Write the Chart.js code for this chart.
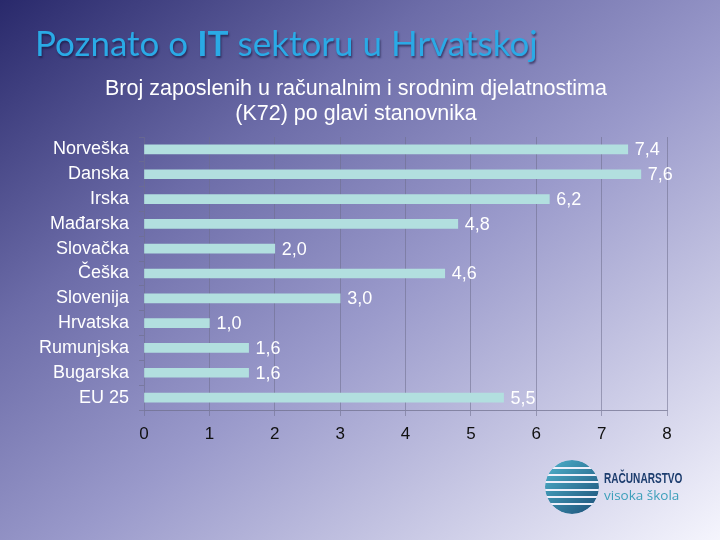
<!DOCTYPE html>
<html>
<head>
<meta charset="utf-8">
<script src="https://cdn.jsdelivr.net/npm/chart.js@4"></script>
<style>
  html, body { margin: 0; padding: 0; }
  body {
    width: 720px; height: 540px; overflow: hidden; position: relative;
    background: linear-gradient(to bottom right, #29296b 0%, #6c6ca8 30%, #9a9acb 55%, #f5f5fd 100%);
    font-family: "Liberation Sans", Arial, sans-serif;
  }
  #pageTitle {
    position: absolute; left: 35px; top: 21px;
    font-family: Lato, "Open Sans", sans-serif; font-size: 35px;
    color: #2aaae6; text-shadow: 1px 2px 2px rgba(20,20,60,0.6);
    white-space: nowrap;
  }
  #chartTitle {
    position: absolute; left: 56px; width: 600px; top: 76px;
    text-align: center; color: #ffffff; font-size: 21.5px; line-height: 25px;
  }
  #wrap { position: absolute; left: 0; top: 0; width: 720px; height: 540px; }
  #logo { position: absolute; left: 543px; top: 458px; }
  #logoText { position: absolute; left: 604px; top: 470px; line-height: 17px; }
  #logoText .a { font-weight: bold; font-size: 14px; color: #1d3d6e; transform: scaleX(0.72); transform-origin: left; white-space: nowrap; }
  #logoText .b { font-family: "Open Sans", sans-serif; font-size: 13.5px; color: #3c9fba; }
</style>
</head>
<body>
<div id="wrap"><canvas id="myChart" width="720" height="540"></canvas></div>
<div id="pageTitle">Poznato o <b>IT</b> sektoru u Hrvatskoj</div>
<div id="chartTitle">Broj zaposlenih u računalnim i srodnim djelatnostima<br>(K72) po glavi stanovnika</div>
<svg id="logo" width="60" height="60" viewBox="0 0 60 60">
  <defs>
    <linearGradient id="g" x1="0" y1="0" x2="1" y2="1">
      <stop offset="0" stop-color="#4fb3cc"/>
      <stop offset="1" stop-color="#1c4f78"/>
    </linearGradient>
    <clipPath id="c"><circle cx="29" cy="29" r="27"/></clipPath>
  </defs>
  <g clip-path="url(#c)">
    <circle cx="29" cy="29" r="27" fill="url(#g)"/>
    <rect x="0" y="9" width="60" height="2" fill="#eef0fb"/>
    <rect x="0" y="16" width="60" height="2" fill="#eef0fb"/>
    <rect x="0" y="23" width="60" height="2" fill="#eef0fb"/>
    <rect x="0" y="31" width="60" height="2" fill="#eef0fb"/>
    <rect x="0" y="38" width="60" height="2" fill="#eef0fb"/>
    <rect x="0" y="45" width="60" height="2" fill="#eef0fb"/>
  </g>
</svg>
<div id="logoText"><div class="a">RAČUNARSTVO</div><div class="b">visoka škola</div></div>
<script>
var labels = ["Norveška", "Danska", "Irska", "Mađarska", "Slovačka", "Češka", "Slovenija", "Hrvatska", "Rumunjska", "Bugarska", "EU 25"];
var data = [7.4, 7.6, 6.2, 4.8, 2.0, 4.6, 3.0, 1.0, 1.6, 1.6, 5.5];
var xTicks = [0, 1, 2, 3, 4, 5, 6, 7, 8];

// vrijednosti pored stupaca, s decimalnim zarezom
var valueLabels = {
    id: 'valueLabels',
    afterDatasetsDraw: function (chart) {
        var ctx = chart.ctx;
        var meta = chart.getDatasetMeta(0);
        ctx.save();
        ctx.fillStyle = '#ffffff';
        ctx.font = '18px "Liberation Sans", Arial, sans-serif';
        ctx.textBaseline = 'middle';
        ctx.textAlign = 'left';
        meta.data.forEach(function (bar, i) {
            var txt = data[i].toFixed(1).replace('.', ',');
            ctx.fillText(txt, bar.x + 7, bar.y + 1);
        });
        ctx.restore();
    }
};

var ctx = document.getElementById("myChart").getContext('2d');
var myChart = new Chart(ctx, {
    type: 'bar',
    data: {
        labels: labels,
        datasets: [{
            data: data,
            backgroundColor: '#b2dfdf',
            borderWidth: 0,
            barThickness: 9
        }]
    },
    options: {
        indexAxis: 'y',
        responsive: false,
        animation: false,
        layout: { padding: { top: 137, right: 53, bottom: 90, left: 0 } },
        plugins: {
            legend: { display: false },
            tooltip: { enabled: false }
        },
        scales: {
            x: {
                min: 0,
                max: 8,
                afterBuildTicks: function (scale) {
                    scale.ticks = xTicks.map(function (v) { return { value: v }; });
                },
                afterFit: function (scale) { scale.height = 40; },
                grid: { color: 'rgba(110,110,140,0.55)', tickLength: 6, lineWidth: 1 },
                border: { color: 'rgba(110,110,140,0.7)' },
                ticks: {
                    color: '#111111',
                    padding: 8,
                    font: { family: '"Liberation Sans", Arial, sans-serif', size: 17 }
                }
            },
            y: {
                afterFit: function (scale) { scale.width = 144; },
                grid: { drawOnChartArea: false, tickLength: 5, color: 'rgba(110,110,140,0.6)' },
                border: { display: false },
                ticks: {
                    color: '#ffffff',
                    padding: 10,
                    autoSkip: false,
                    font: { family: '"Liberation Sans", Arial, sans-serif', size: 18 }
                }
            }
        }
    },
    plugins: [valueLabels]
});
</script>
</body>
</html>
